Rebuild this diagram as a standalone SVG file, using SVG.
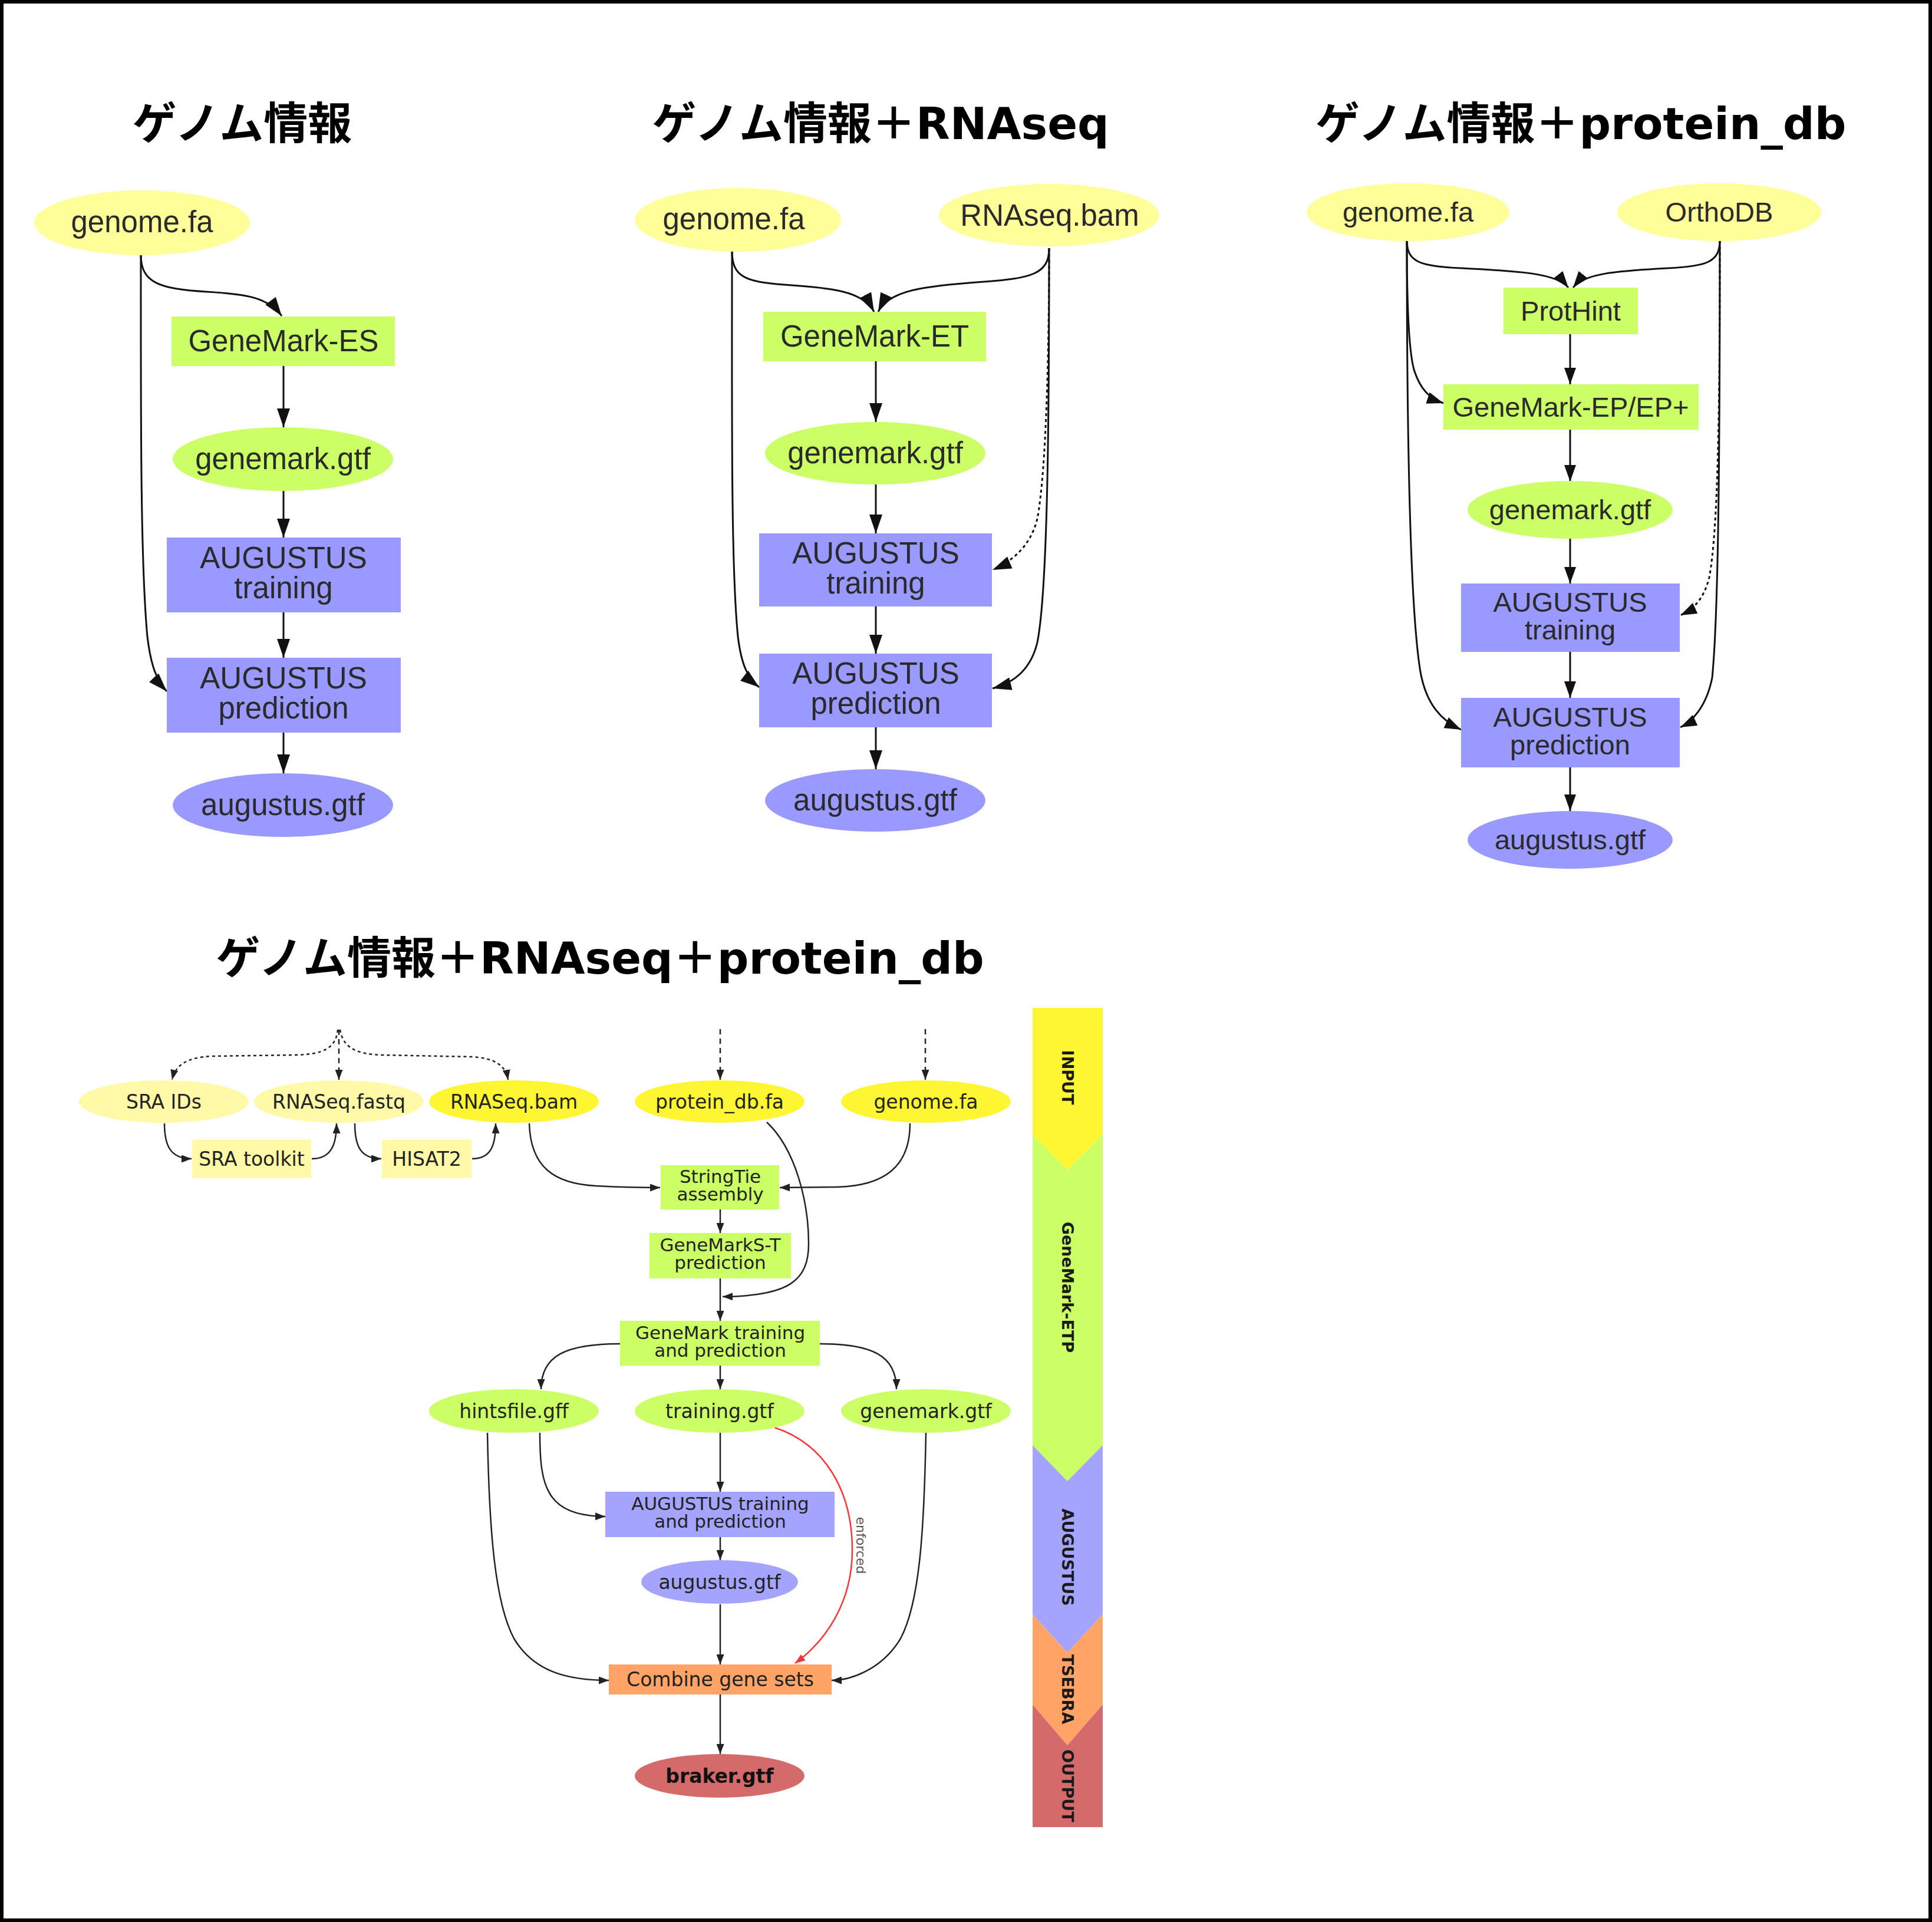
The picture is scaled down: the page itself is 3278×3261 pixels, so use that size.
<svg xmlns="http://www.w3.org/2000/svg" width="3278" height="3261" viewBox="0 0 3278 3261">
<style>
.title{font-family:"DejaVu Sans","Noto Sans CJK JP",sans-serif;font-weight:bold;font-size:75px;text-anchor:middle;fill:#000}
.t1{font-family:"Liberation Sans",Arial,sans-serif;font-size:51px;fill:#2a2a2a;text-anchor:middle}
.t3{font-family:"Liberation Sans",Arial,sans-serif;font-size:47px;fill:#2a2a2a;text-anchor:middle}
.tb{font-family:"DejaVu Sans",sans-serif;font-size:33px;fill:#222;text-anchor:middle}
.tb2{font-family:"DejaVu Sans",sans-serif;font-size:31px;fill:#222;text-anchor:middle}
.bar{font-family:"DejaVu Sans",sans-serif;font-weight:bold;font-size:27px;fill:#1a1a1a;text-anchor:middle}
.e{fill:none;stroke:#111;stroke-width:3}
.eb{fill:none;stroke:#222;stroke-width:2.5}
.dot{stroke-dasharray:5,5}
.dash{stroke-dasharray:9,7}
.py{fill:#ffff99}.pg{fill:#ccff66}.pb{fill:#9999ff}
.by{fill:#fff9a8}.bY{fill:#fff633}.bg{fill:#ccff66}.bb{fill:#a4a4ff}.bo{fill:#ffa466}.br{fill:#d46a6a}
</style>
<defs>
<marker id="a1" viewBox="0 0 32 22" refX="32" refY="11" markerUnits="userSpaceOnUse" markerWidth="32" markerHeight="22" orient="auto"><path d="M0,0 L32,11 L0,22 z" fill="#111"/></marker>
<marker id="a3" viewBox="0 0 28 20" refX="28" refY="10" markerUnits="userSpaceOnUse" markerWidth="28" markerHeight="20" orient="auto"><path d="M0,0 L28,10 L0,20 z" fill="#111"/></marker>
<marker id="ab" viewBox="0 0 17 13" refX="17" refY="6.5" markerUnits="userSpaceOnUse" markerWidth="17" markerHeight="13" orient="auto"><path d="M0,0 L17,6.5 L0,13 z" fill="#222"/></marker>
<marker id="ar" viewBox="0 0 17 13" refX="17" refY="6.5" markerUnits="userSpaceOnUse" markerWidth="17" markerHeight="13" orient="auto"><path d="M0,0 L17,6.5 L0,13 z" fill="#ff3333"/></marker>
</defs>
<rect x="0" y="0" width="3278" height="3261" fill="#fff"/>
<rect x="3" y="3" width="3272" height="3255" fill="none" stroke="#000" stroke-width="6"/>

<!-- titles -->
<text class="title" x="411" y="236">ゲノム情報</text>
<text class="title" x="1494" y="236">ゲノム情報＋RNAseq</text>
<text class="title" x="2682" y="236">ゲノム情報＋protein_db</text>
<text class="title" x="1018" y="1652">ゲノム情報＋RNAseq＋protein_db</text>

<!-- connectors -->
<g id="connectors">
 <!-- panel 1 -->
 <path class="e" marker-end="url(#a1)" d="M239,432 C239,480 270,490 350,495 C420,499 455,505 478,536"/>
 <path class="e" marker-end="url(#a1)" d="M239,432 C239,700 238,950 250,1080 C256,1130 266,1155 283,1173"/>
 <path class="e" marker-end="url(#a1)" d="M481,621 L481,725"/>
 <path class="e" marker-end="url(#a1)" d="M481,832 L481,912"/>
 <path class="e" marker-end="url(#a1)" d="M481,1039 L481,1116"/>
 <path class="e" marker-end="url(#a1)" d="M481,1243 L481,1312"/>
 <!-- panel 2 -->
 <path class="e" marker-end="url(#a1)" d="M1242,426 C1242,470 1265,478 1330,483 C1410,488 1465,494 1483,529"/>
 <path class="e" marker-end="url(#a1)" d="M1780,421 C1780,465 1750,472 1670,478 C1570,485 1508,492 1490,529"/>
 <path class="e" marker-end="url(#a1)" d="M1242,426 C1242,700 1240,960 1252,1080 C1258,1130 1270,1152 1288,1166"/>
 <path class="e dot" marker-end="url(#a1)" d="M1780,421 C1780,600 1775,800 1760,880 C1748,930 1712,955 1684,967"/>
 <path class="e" marker-end="url(#a1)" d="M1780,421 C1780,700 1778,1000 1760,1090 C1748,1140 1715,1160 1684,1168"/>
 <path class="e" marker-end="url(#a1)" d="M1486,613 L1486,716"/>
 <path class="e" marker-end="url(#a1)" d="M1486,821 L1486,905"/>
 <path class="e" marker-end="url(#a1)" d="M1486,1029 L1486,1109"/>
 <path class="e" marker-end="url(#a1)" d="M1486,1234 L1486,1305"/>
 <!-- panel 3 -->
 <path class="e" marker-end="url(#a3)" d="M2387,408 C2387,445 2410,452 2480,455 C2580,460 2642,464 2661,488"/>
 <path class="e" marker-end="url(#a3)" d="M2918,408 C2918,445 2895,452 2830,455 C2740,460 2688,464 2669,488"/>
 <path class="e" marker-end="url(#a3)" d="M2387,408 C2387,520 2390,600 2400,630 C2410,660 2425,676 2449,684"/>
 <path class="e" marker-end="url(#a3)" d="M2387,408 C2387,800 2395,1050 2410,1140 C2420,1195 2445,1222 2479,1238"/>
 <path class="e dot" marker-end="url(#a3)" d="M2918,408 C2918,700 2915,900 2900,980 C2890,1020 2870,1035 2851,1044"/>
 <path class="e" marker-end="url(#a3)" d="M2918,408 C2918,800 2915,1050 2905,1150 C2895,1200 2870,1225 2851,1234"/>
 <path class="e" marker-end="url(#a3)" d="M2664,567 L2664,652"/>
 <path class="e" marker-end="url(#a3)" d="M2664,729 L2664,817"/>
 <path class="e" marker-end="url(#a3)" d="M2664,914 L2664,990"/>
 <path class="e" marker-end="url(#a3)" d="M2664,1106 L2664,1184"/>
 <path class="e" marker-end="url(#a3)" d="M2664,1302 L2664,1376"/>
 <!-- bottom panel -->
 <path class="eb dot" marker-end="url(#ab)" d="M573,1747 C570,1778 550,1789 500,1790 L360,1792 C318,1794 298,1806 292,1832"/>
 <path class="eb dash" marker-end="url(#ab)" d="M575,1747 L575,1832"/>
 <path class="eb dot" marker-end="url(#ab)" d="M577,1747 C582,1778 605,1789 650,1790 L800,1793 C840,1795 858,1808 862,1832"/>
 <path class="eb dash" marker-end="url(#ab)" d="M1222,1746 L1222,1832"/>
 <path class="eb dash" marker-end="url(#ab)" d="M1570,1746 L1570,1832"/>
 <path class="eb" marker-end="url(#ab)" d="M279,1906 C279,1945 290,1966 325,1966"/>
 <path class="eb" marker-end="url(#ab)" d="M529,1966 C560,1966 571,1945 571,1906"/>
 <path class="eb" marker-end="url(#ab)" d="M602,1906 C602,1945 612,1966 647,1966"/>
 <path class="eb" marker-end="url(#ab)" d="M801,1966 C832,1966 841,1945 841,1906"/>
 <path class="eb" marker-end="url(#ab)" d="M898,1906 C900,1980 940,2008 1010,2012 C1060,2015 1090,2015 1120,2015"/>
 <path class="eb" marker-end="url(#ab)" d="M1544,1906 C1544,1980 1500,2012 1420,2014 L1323,2015"/>
 <path class="eb" marker-end="url(#ab)" d="M1301,1904 C1350,1950 1372,2040 1372,2110 C1372,2172 1340,2199 1226,2200"/>
 <path class="eb" marker-end="url(#ab)" d="M1222,2052 L1222,2092"/>
 <path class="eb" marker-end="url(#ab)" d="M1222,2169 L1222,2241"/>
 <path class="eb" marker-end="url(#ab)" d="M1222,2317 L1222,2357"/>
 <path class="eb" marker-end="url(#ab)" d="M1052,2280 C960,2280 918,2300 918,2357"/>
 <path class="eb" marker-end="url(#ab)" d="M1391,2280 C1480,2280 1521,2300 1521,2357"/>
 <path class="eb" marker-end="url(#ab)" d="M1222,2430 L1222,2531"/>
 <path class="eb" marker-end="url(#ab)" d="M916,2431 C916,2520 925,2572 1027,2573"/>
 <path class="eb" marker-end="url(#ab)" d="M827,2431 C830,2600 840,2720 872,2780 C905,2835 960,2851 1033,2851"/>
 <path class="eb" marker-end="url(#ab)" d="M1571,2431 C1568,2600 1560,2720 1528,2780 C1495,2835 1440,2851 1411,2851"/>
 <path class="eb" marker-end="url(#ab)" d="M1222,2608 L1222,2647"/>
 <path class="eb" marker-end="url(#ab)" d="M1222,2722 L1222,2824"/>
 <path class="eb" marker-end="url(#ab)" d="M1222,2875 L1222,2976"/>
 <path fill="none" stroke="#ff3333" stroke-width="2.5" marker-end="url(#ar)" d="M1314,2422 C1400,2450 1446,2530 1446,2630 C1446,2720 1400,2785 1349,2822"/>
 <text class="tb" style="font-size:22px;fill:#555" transform="rotate(90,1461,2622)" x="1461" y="2622" dy="8">enforced</text>
</g>

<!-- panel 1 nodes -->
<g id="p1-genome"><ellipse class="py" cx="241" cy="378" rx="183" ry="55"/><text class="t1" x="241" y="394">genome.fa</text></g>
<g id="p1-genemark-es"><rect class="pg" x="291" y="537" width="379" height="84"/><text class="t1" x="481" y="596">GeneMark-ES</text></g>
<g id="p1-genemark-gtf"><ellipse class="pg" cx="480" cy="779" rx="187" ry="54"/><text class="t1" x="480" y="796">genemark.gtf</text></g>
<g id="p1-aug-train"><rect class="pb" x="283" y="912" width="397" height="127"/><text class="t1" x="481" y="964">AUGUSTUS</text><text class="t1" x="481" y="1015">training</text></g>
<g id="p1-aug-pred"><rect class="pb" x="283" y="1116" width="397" height="127"/><text class="t1" x="481" y="1168">AUGUSTUS</text><text class="t1" x="481" y="1219">prediction</text></g>
<g id="p1-augustus-gtf"><ellipse class="pb" cx="480" cy="1366" rx="187" ry="54"/><text class="t1" x="480" y="1383">augustus.gtf</text></g>

<!-- panel 2 nodes -->
<g id="p2-genome"><ellipse class="py" cx="1252" cy="373" rx="175" ry="54"/><text class="t1" x="1245" y="389">genome.fa</text></g>
<g id="p2-rnaseq"><ellipse class="py" cx="1780" cy="365" rx="187" ry="53"/><text class="t1" x="1781" y="383">RNAseq.bam</text></g>
<g id="p2-genemark-et"><rect class="pg" x="1295" y="529" width="378" height="84"/><text class="t1" x="1484" y="588">GeneMark-ET</text></g>
<g id="p2-genemark-gtf"><ellipse class="pg" cx="1485" cy="769" rx="187" ry="53"/><text class="t1" x="1485" y="786">genemark.gtf</text></g>
<g id="p2-aug-train"><rect class="pb" x="1288" y="905" width="395" height="124"/><text class="t1" x="1486" y="956">AUGUSTUS</text><text class="t1" x="1486" y="1007">training</text></g>
<g id="p2-aug-pred"><rect class="pb" x="1288" y="1109" width="395" height="125"/><text class="t1" x="1486" y="1160">AUGUSTUS</text><text class="t1" x="1486" y="1211">prediction</text></g>
<g id="p2-augustus-gtf"><ellipse class="pb" cx="1485" cy="1358" rx="187" ry="53"/><text class="t1" x="1485" y="1375">augustus.gtf</text></g>

<!-- panel 3 nodes -->
<g id="p3-genome"><ellipse class="py" cx="2389" cy="360" rx="172" ry="49"/><text class="t3" x="2389" y="376">genome.fa</text></g>
<g id="p3-orthodb"><ellipse class="py" cx="2917" cy="360" rx="173" ry="49"/><text class="t3" x="2917" y="376">OrthoDB</text></g>
<g id="p3-prothint"><rect class="pg" x="2551" y="488" width="228" height="79"/><text class="t3" x="2665" y="544">ProtHint</text></g>
<g id="p3-genemark-ep"><rect class="pg" x="2449" y="652" width="433" height="77"/><text class="t3" x="2665" y="707">GeneMark-EP/EP+</text></g>
<g id="p3-genemark-gtf"><ellipse class="pg" cx="2664" cy="865" rx="174" ry="49"/><text class="t3" x="2664" y="881">genemark.gtf</text></g>
<g id="p3-aug-train"><rect class="pb" x="2479" y="990" width="371" height="116"/><text class="t3" x="2664" y="1038">AUGUSTUS</text><text class="t3" x="2664" y="1085">training</text></g>
<g id="p3-aug-pred"><rect class="pb" x="2479" y="1184" width="371" height="118"/><text class="t3" x="2664" y="1233">AUGUSTUS</text><text class="t3" x="2664" y="1280">prediction</text></g>
<g id="p3-augustus-gtf"><ellipse class="pb" cx="2664" cy="1425" rx="174" ry="49"/><text class="t3" x="2664" y="1441">augustus.gtf</text></g>

<!-- bottom panel nodes -->
<g id="b-sra-ids"><ellipse class="by" cx="278" cy="1869" rx="144" ry="36"/><text class="tb" x="278" y="1881">SRA IDs</text></g>
<g id="b-rnaseq-fastq"><ellipse class="by" cx="575" cy="1869" rx="144" ry="36"/><text class="tb" x="575" y="1881">RNASeq.fastq</text></g>
<g id="b-rnaseq-bam"><ellipse class="bY" cx="872" cy="1869" rx="144" ry="36"/><text class="tb" x="872" y="1881">RNASeq.bam</text></g>
<g id="b-protein-db"><ellipse class="bY" cx="1221" cy="1869" rx="144" ry="36"/><text class="tb" x="1221" y="1881">protein_db.fa</text></g>
<g id="b-genome"><ellipse class="bY" cx="1571" cy="1869" rx="144" ry="36"/><text class="tb" x="1571" y="1881">genome.fa</text></g>
<g id="b-sra-toolkit"><rect class="by" x="326" y="1934" width="202" height="65"/><text class="tb" x="427" y="1978">SRA toolkit</text></g>
<g id="b-hisat2"><rect class="by" x="648" y="1934" width="152" height="65"/><text class="tb" x="724" y="1978">HISAT2</text></g>
<g id="b-stringtie"><rect class="bg" x="1121" y="1977" width="201" height="75"/><text class="tb2" x="1222" y="2007">StringTie</text><text class="tb2" x="1222" y="2037">assembly</text></g>
<g id="b-genemarks-t"><rect class="bg" x="1102" y="2092" width="240" height="77"/><text class="tb2" x="1222" y="2123">GeneMarkS-T</text><text class="tb2" x="1222" y="2153">prediction</text></g>
<g id="b-genemark-train"><rect class="bg" x="1052" y="2241" width="339" height="76"/><text class="tb2" x="1222" y="2272">GeneMark training</text><text class="tb2" x="1222" y="2302">and prediction</text></g>
<g id="b-hintsfile"><ellipse class="bg" cx="872" cy="2394" rx="144" ry="37"/><text class="tb" x="872" y="2406">hintsfile.gff</text></g>
<g id="b-training-gtf"><ellipse class="bg" cx="1221" cy="2394" rx="144" ry="37"/><text class="tb" x="1221" y="2406">training.gtf</text></g>
<g id="b-genemark-gtf"><ellipse class="bg" cx="1571" cy="2394" rx="144" ry="37"/><text class="tb" x="1571" y="2406">genemark.gtf</text></g>
<g id="b-aug-train"><rect class="bb" x="1027" y="2531" width="389" height="77"/><text class="tb2" x="1222" y="2562">AUGUSTUS training</text><text class="tb2" x="1222" y="2592">and prediction</text></g>
<g id="b-augustus-gtf"><ellipse class="bb" cx="1221" cy="2684" rx="133" ry="37"/><text class="tb" x="1221" y="2696">augustus.gtf</text></g>
<g id="b-combine"><rect class="bo" x="1033" y="2824" width="378" height="51"/><text class="tb" x="1222" y="2861">Combine gene sets</text></g>
<g id="b-braker"><ellipse class="br" cx="1221" cy="3013" rx="144" ry="37"/><text class="tb" x="1221" y="3025" style="font-weight:bold;fill:#111">braker.gtf</text></g>

<!-- stage bar -->
<g id="stage-bar">
 <polygon class="bY" points="1752,1710 1871,1710 1871,1925 1811,1985 1752,1925"/>
 <polygon class="bg" points="1752,1925 1811,1985 1871,1925 1871,2452 1811,2513 1752,2452"/>
 <polygon class="bb" points="1752,2452 1811,2513 1871,2452 1871,2739 1811,2804 1752,2739"/>
 <polygon class="bo" points="1752,2739 1811,2804 1871,2739 1871,2892 1811,2961 1752,2892"/>
 <polygon class="br" points="1752,2892 1811,2961 1871,2892 1871,3100 1752,3100"/>
 <text class="bar" transform="rotate(90,1812,1828)" x="1812" y="1828" dy="10">INPUT</text>
 <text class="bar" transform="rotate(90,1812,2184)" x="1812" y="2184" dy="10">GeneMark-ETP</text>
 <text class="bar" transform="rotate(90,1812,2642)" x="1812" y="2642" dy="10">AUGUSTUS</text>
 <text class="bar" transform="rotate(90,1812,2866)" x="1812" y="2866" dy="10">TSEBRA</text>
 <text class="bar" transform="rotate(90,1812,3030)" x="1812" y="3030" dy="10">OUTPUT</text>
</g>
</svg>
